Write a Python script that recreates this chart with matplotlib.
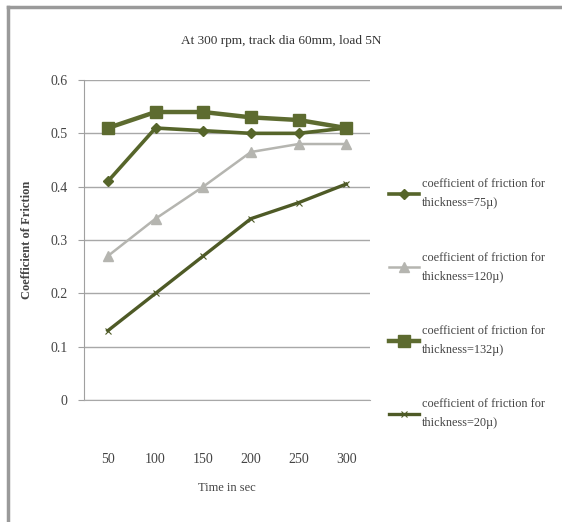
import matplotlib.pyplot as plt
from matplotlib.lines import Line2D

plt.rcParams['font.family'] = ['Liberation Serif', 'DejaVu Serif']

times = ['50', '100', '150', '200', '250', '300']
cof_75 = [0.41, 0.51, 0.505, 0.50, 0.50, 0.51]
cof_120 = [0.27, 0.34, 0.40, 0.465, 0.48, 0.48]
cof_132 = [0.51, 0.54, 0.54, 0.53, 0.525, 0.51]
cof_20 = [0.13, 0.20, 0.27, 0.34, 0.37, 0.405]
labels = ['coefficient of friction for\nthickness=75µ)',
          'coefficient of friction for\nthickness=120µ)',
          'coefficient of friction for\nthickness=132µ)',
          'coefficient of friction for\nthickness=20µ)']

fig = plt.figure(figsize=(5.62, 5.22), dpi=100)
ax = fig.add_axes([0.1495, 0.2337, 0.509, 0.613])

x = range(len(times))
dark = '#56652a'
ax.plot(x, cof_75, color=dark, lw=2.6, marker='D', ms=5.5, label=labels[0])
ax.plot(x, cof_120, color='#b5b5b0', lw=1.8, marker='^', ms=6.5, label=labels[1])
ax.plot(x, cof_132, color='#5d6b30', lw=3.2, marker='s', ms=8, label=labels[2])
ax.plot(x, cof_20, color='#4e5a26', lw=2.4, marker='x', ms=5, mew=0.8, label=labels[3])

ax.set_xlim(-0.5, 5.5)
ax.set_ylim(0, 0.6)
ax.set_yticks([0, 0.1, 0.2, 0.3, 0.4, 0.5, 0.6])
ax.set_yticklabels(['0', '0.1', '0.2', '0.3', '0.4', '0.5', '0.6'])
ax.set_xticks(list(x))
ax.set_xticklabels(times)
ax.yaxis.grid(True, color='#a8a8a8', lw=1.0)
ax.set_axisbelow(True)
for side in ['top', 'right']:
    ax.spines[side].set_visible(False)
ax.spines['left'].set_color('#a0a0a0')
ax.spines['bottom'].set_color('#a8a8a8')
ax.tick_params(axis='x', length=0, pad=38, labelsize=10, labelcolor='#444444')
ax.tick_params(axis='y', length=4, color='#a0a0a0', pad=8, labelsize=10, labelcolor='#444444')

ax.set_xlabel('Time in sec', fontsize=9, color='#444444', labelpad=12)
ax.set_ylabel('Coefficient of Friction', fontsize=9, fontweight='bold', color='#444444', labelpad=12)
fig.text(0.5, 0.915, 'At 300 rpm, track dia 60mm, load 5N', ha='center', fontsize=9.5, color='#333333')

leg = fig.legend(loc='center left', bbox_to_anchor=(0.672, 0.418), frameon=False,
                 fontsize=8.8, labelspacing=3.45, handlelength=2.5, handletextpad=0.2,
                 labelcolor='#444444')
for t in leg.get_texts():
    t.set_linespacing(1.8)

# frame edges on the left and top
fig.add_artist(Line2D([0.014, 0.014], [0, 0.987], color='#9a9a9a', lw=2.5, transform=fig.transFigure))
fig.add_artist(Line2D([0.014, 1], [0.987, 0.987], color='#9a9a9a', lw=2.5, transform=fig.transFigure))

fig.savefig('out.png', dpi=100)
